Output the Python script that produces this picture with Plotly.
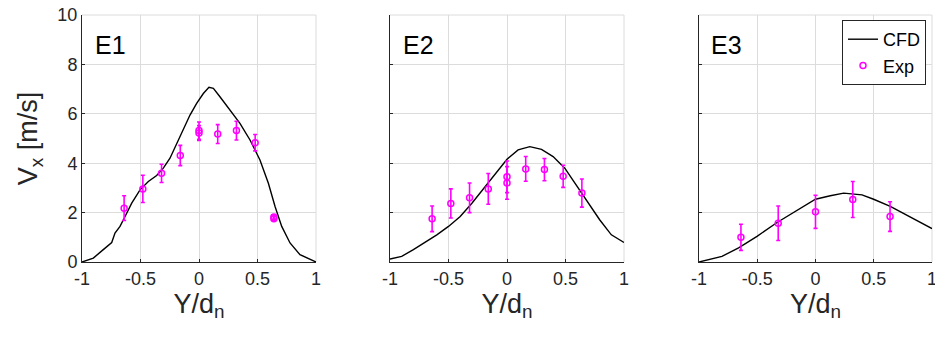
import plotly.graph_objects as go

# ---------------- data ----------------
# CFD curves (Y/d_n, V_x)
cfd1_x = [-1.0, -0.903, -0.818, -0.746, -0.718, -0.675, -0.632, -0.575, -0.504, -0.433, -0.362, -0.305,
          -0.248, -0.191, -0.134, -0.077, -0.020, 0.037, 0.085, 0.123, 0.179, 0.265, 0.350, 0.436,
          0.521, 0.593, 0.650, 0.707, 0.778, 0.863, 1.0]
cfd1_y = [0.0, 0.16, 0.50, 0.79, 1.17, 1.44, 1.84, 2.38, 2.92, 3.26, 3.50, 3.80,
          4.20, 4.80, 5.41, 5.95, 6.42, 6.82, 7.07, 7.03, 6.69, 6.15, 5.61, 4.94,
          4.13, 3.19, 2.25, 1.44, 0.77, 0.30, 0.0]

cfd2_x = [-1.0, -0.9, -0.8, -0.7, -0.6, -0.5, -0.4, -0.3, -0.2, -0.1, 0.0, 0.095, 0.195, 0.295,
          0.394, 0.494, 0.593, 0.693, 0.792, 0.892, 1.0]
cfd2_y = [0.12, 0.23, 0.50, 0.79, 1.10, 1.44, 1.84, 2.38, 2.99, 3.59, 4.16, 4.54, 4.67, 4.56,
          4.27, 3.80, 3.12, 2.38, 1.71, 1.10, 0.79]

cfd3_x = [-1.0, -0.803, -0.66, -0.502, -0.33, -0.173, 0.0, 0.127, 0.242, 0.399, 0.499, 0.642, 0.814, 1.0]
cfd3_y = [0.0, 0.23, 0.57, 1.04, 1.60, 2.05, 2.54, 2.68, 2.79, 2.72, 2.54, 2.25, 1.82, 1.35]

# Experimental data (Y/d_n, V_x, error)
exp1_x = [-0.64, -0.48, -0.32, -0.16, 0.0, 0.0, 0.16, 0.32, 0.48, 0.64, 0.64]
exp1_y = [2.18, 2.96, 3.59, 4.31, 5.32, 5.22, 5.18, 5.32, 4.83, 1.75, 1.82]
exp1_e = [0.50, 0.55, 0.37, 0.41, 0.35, 0.30, 0.38, 0.38, 0.33, 0.08, 0.08]

exp2_x = [-0.64, -0.48, -0.32, -0.16, 0.0, 0.0, 0.16, 0.32, 0.48, 0.64]
exp2_y = [1.75, 2.37, 2.60, 2.96, 3.45, 3.20, 3.77, 3.74, 3.47, 2.79]
exp2_e = [0.52, 0.59, 0.60, 0.62, 0.64, 0.66, 0.50, 0.45, 0.45, 0.57]

exp3_x = [-0.64, -0.32, 0.0, 0.32, 0.64]
exp3_y = [1.00, 1.57, 2.03, 2.53, 1.84]
exp3_e = [0.53, 0.70, 0.67, 0.73, 0.60]

panel_labels = ["E1", "E2", "E3"]
x_ticks = [-1, -0.5, 0, 0.5, 1]
x_tick_text = ["-1", "-0.5", "0", "0.5", "1"]
y_ticks = [0, 2, 4, 6, 8, 10]

# ---------------- style ----------------
FONT = "Liberation Sans"
MAG = "#FF00FF"
TXT = "#262626"
W, H = 935, 343
x_domains = [(82 / W, 316 / W), (390 / W, 624 / W), (699 / W, 932 / W)]
y_domain = (1 - 262 / H, 1 - 15 / H)

fig = go.Figure()
cfd = [(cfd1_x, cfd1_y), (cfd2_x, cfd2_y), (cfd3_x, cfd3_y)]
exp = [(exp1_x, exp1_y, exp1_e), (exp2_x, exp2_y, exp2_e), (exp3_x, exp3_y, exp3_e)]

for i in range(3):
    xa = "x" if i == 0 else f"x{i+1}"
    ya = "y" if i == 0 else f"y{i+1}"
    fig.add_trace(go.Scatter(x=cfd[i][0], y=cfd[i][1], mode="lines", name="CFD",
                             line=dict(color="black", width=1.4), xaxis=xa, yaxis=ya,
                             showlegend=(i == 2)))
    fig.add_trace(go.Scatter(x=exp[i][0], y=exp[i][1], mode="markers", name="Exp",
                             marker=dict(symbol="circle-open", color=MAG, size=6, line=dict(width=1.5)),
                             error_y=dict(type="data", array=exp[i][2], color=MAG, thickness=1.6, width=2),
                             xaxis=xa, yaxis=ya, showlegend=(i == 2)))

layout = dict(
    width=W, height=H, margin=dict(l=0, r=0, t=0, b=0),
    paper_bgcolor="white", plot_bgcolor="white",
    font=dict(family=FONT, color=TXT),
    legend=dict(x=926 / W, xanchor="right", y=1 - 20 / H, yanchor="top",
                bgcolor="white", bordercolor=TXT, borderwidth=1,
                font=dict(size=18, color="black"), itemwidth=30,
                tracegroupgap=0),
    showlegend=True,
)

for i in range(3):
    xk = "xaxis" if i == 0 else f"xaxis{i+1}"
    yk = "yaxis" if i == 0 else f"yaxis{i+1}"
    ya = "y" if i == 0 else f"y{i+1}"
    xa = "x" if i == 0 else f"x{i+1}"
    layout[xk] = dict(domain=list(x_domains[i]), anchor=ya, range=[-1, 1], automargin=False,
                      tickvals=x_ticks, ticktext=x_tick_text, ticklabeloverflow="allow",
                      showgrid=True, gridcolor="#dcdcdc", gridwidth=1,
                      showline=True, linecolor=TXT, linewidth=1,
                      ticks="inside", ticklen=3, tickcolor=TXT,
                      zeroline=False, tickfont=dict(size=18, color=TXT),
                      title=dict(text="Y/d<sub>n</sub>", font=dict(size=27, color=TXT), standoff=4))
    layout[yk] = dict(domain=list(y_domain), anchor=xa, range=[0, 10], automargin=False,
                      tickvals=y_ticks, showticklabels=(i == 0), ticklabeloverflow="allow",
                      showgrid=True, gridcolor="#dcdcdc", gridwidth=1,
                      showline=True, linecolor=TXT, linewidth=1,
                      ticks="inside", ticklen=3, tickcolor=TXT,
                      zeroline=False, tickfont=dict(size=18, color=TXT))
    if i == 0:
        layout[yk]["title"] = dict(text="V<sub>x</sub> [m/s]", font=dict(size=27, color=TXT), standoff=11)

fig.update_layout(**layout)

for i in range(3):
    xa = "x" if i == 0 else f"x{i+1}"
    ya = "y" if i == 0 else f"y{i+1}"
    fig.add_annotation(text=panel_labels[i], xref=f"{xa} domain", yref=f"{ya} domain",
                       x=0.045, y=0.88, xanchor="left", yanchor="middle", showarrow=False,
                       font=dict(size=25, color="black", family=FONT))
    # top and right box edges in light gray (grid-like)
    fig.add_shape(type="line", xref=f"{xa} domain", yref=f"{ya} domain", x0=0, x1=1, y0=1, y1=1,
                  line=dict(color="#dcdcdc", width=1), layer="below")
    fig.add_shape(type="line", xref=f"{xa} domain", yref=f"{ya} domain", x0=1, x1=1, y0=0, y1=1,
                  line=dict(color="#dcdcdc", width=1), layer="below")

fig.write_html("out.html")
